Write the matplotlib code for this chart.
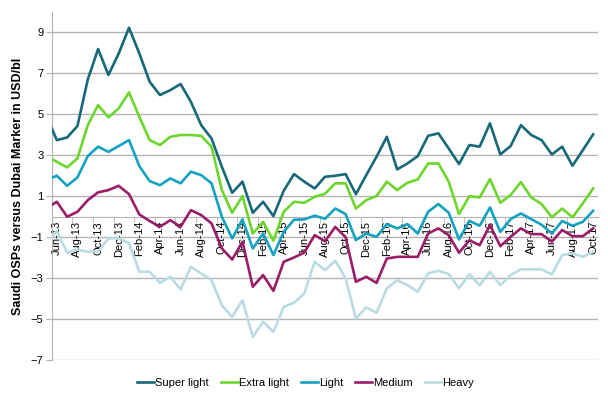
import matplotlib
matplotlib.use("Agg")
import matplotlib.pyplot as plt
import numpy as np
import pandas as pd

plt.rcParams['font.family'] = ['Liberation Sans', 'DejaVu Sans']

# monthly series, May-13 .. Oct-17 (USD/bl)
months = pd.date_range("2013-05-01", "2017-10-01", freq="MS")

super_light = [4.9, 3.74, 3.87, 4.43, 6.70, 8.19, 6.92, 7.97, 9.23, 7.97, 6.59,
               5.94, 6.18, 6.48, 5.61, 4.47, 3.82, 2.44, 1.17, 1.71, 0.19, 0.73,
               0.03, 1.27, 2.08, 1.71, 1.38, 1.95, 2.00, 2.08, 1.10, 2.03, 2.93,
               3.90, 2.31, 2.60, 2.96, 3.95, 4.07, 3.33, 2.57, 3.50, 3.42, 4.56,
               3.04, 3.45, 4.47, 3.99, 3.74, 3.04, 3.42, 2.49, 3.25, 4.02]
extra_light = [2.95, 2.68, 2.41, 2.85, 4.47, 5.45, 4.85, 5.29, 6.07, 4.88, 3.74,
               3.50, 3.90, 3.99, 3.99, 3.95, 3.42, 1.30, 0.19, 1.01, -0.82, -0.25,
               -1.17, 0.24, 0.73, 0.68, 0.97, 1.12, 1.63, 1.63, 0.40, 0.81, 1.01,
               1.71, 1.30, 1.66, 1.82, 2.60, 2.60, 1.71, 0.13, 1.00, 0.94, 1.84,
               0.68, 1.06, 1.69, 0.94, 0.62, -0.03, 0.40, -0.03, 0.65, 1.38]
light = [1.8, 2.00, 1.51, 1.92, 2.96, 3.42, 3.17, 3.45, 3.74, 2.47, 1.74,
         1.54, 1.87, 1.63, 2.20, 2.03, 1.63, 0.0, -1.06, -0.13, -1.55, -0.82,
         -1.87, -0.74, -0.15, -0.13, 0.05, -0.10, 0.40, 0.13, -1.14, -0.82, -0.98,
         -0.36, -0.57, -0.36, -0.82, 0.24, 0.62, 0.19, -1.11, -0.20, -0.44, 0.45,
         -0.74, -0.12, 0.16, -0.12, -0.39, -0.82, -0.21, -0.44, -0.25, 0.29]
medium = [0.41, 0.73, 0.0, 0.24, 0.81, 1.19, 1.30, 1.51, 1.10, 0.11, -0.21,
          -0.49, -0.17, -0.49, 0.32, 0.08, -0.33, -1.55, -2.09, -1.22, -3.42, -2.85,
          -3.62, -2.20, -1.99, -1.75, -0.90, -1.20, -0.50, -1.00, -3.18, -2.93, -3.23,
          -2.04, -1.96, -1.96, -1.96, -0.82, -0.57, -0.90, -1.76, -1.15, -1.39, -0.41,
          -1.44, -0.98, -0.57, -0.85, -0.85, -1.22, -0.65, -0.95, -0.95, -0.57]
heavy = [-1.3, -0.69, -1.76, -1.60, -1.71, -1.71, -1.06, -1.06, -1.30, -2.69, -2.69,
         -3.23, -2.93, -3.55, -2.44, -2.77, -3.10, -4.32, -4.89, -4.08, -5.86, -5.13,
         -5.62, -4.40, -4.20, -3.75, -2.20, -2.61, -2.15, -3.01, -4.97, -4.43, -4.69,
         -3.50, -3.10, -3.34, -3.67, -2.77, -2.64, -2.80, -3.50, -2.80, -3.34, -2.69,
         -3.34, -2.85, -2.57, -2.57, -2.57, -2.82, -1.87, -1.79, -1.96, -1.71]

series = [("Super light", super_light, "#16687a"),
          ("Extra light", extra_light, "#6cd62c"),
          ("Light", light, "#14a2c0"),
          ("Medium", medium, "#9a1d6a"),
          ("Heavy", heavy, "#b9dbe3")]

x = np.arange(len(months)) - 1   # Jun-13 -> 0
labels = [m.strftime("%b-%y") for m in months]

fig = plt.figure(figsize=(6.08, 3.97), dpi=100)
ax = fig.add_axes([0.085, 0.093, 0.899, 0.877])
ax.set_axisbelow(True)

for name, vals, col in series:
    ax.plot(x, vals, color=col, lw=1.9, label=name, zorder=3)

ax.set_xlim(-0.5, 52.5)
ax.set_ylim(-7, 10)

# gridlines
for v in range(-7, 10, 2):
    ax.axhline(v, color="#b3b3b3", lw=1.0, zorder=0)

ax.set_yticks(range(-7, 10, 2))
ax.tick_params(axis="y", labelsize=8, length=4, color="#b3b3b3", pad=2)

# category axis crossing at zero
ax.spines["bottom"].set_position(("data", 0))
ax.spines["bottom"].set_color("#b3b3b3")
ax.spines["left"].set_color("#b3b3b3")
ax.spines["top"].set_visible(False)
ax.spines["right"].set_visible(False)
ax.set_xticks(x[1::2])
ax.set_xticklabels(labels[1::2], rotation=90)
ax.set_xticks(np.arange(-0.5, 53, 2), minor=True)
ax.tick_params(axis="x", which="major", length=0, labelsize=8, pad=3)
ax.tick_params(axis="x", which="minor", length=4, color="#b3b3b3")

ax.set_ylabel("Saudi OSPs versus Dubai Marker in USD/bl", fontsize=9,
              fontweight="bold", labelpad=5)

fig.legend(loc="center", bbox_to_anchor=(0.503, 0.036), ncol=5, frameon=False,
           fontsize=8, handlelength=1.5, handletextpad=0.1, columnspacing=1.1)

fig.savefig("out.png", dpi=100)
